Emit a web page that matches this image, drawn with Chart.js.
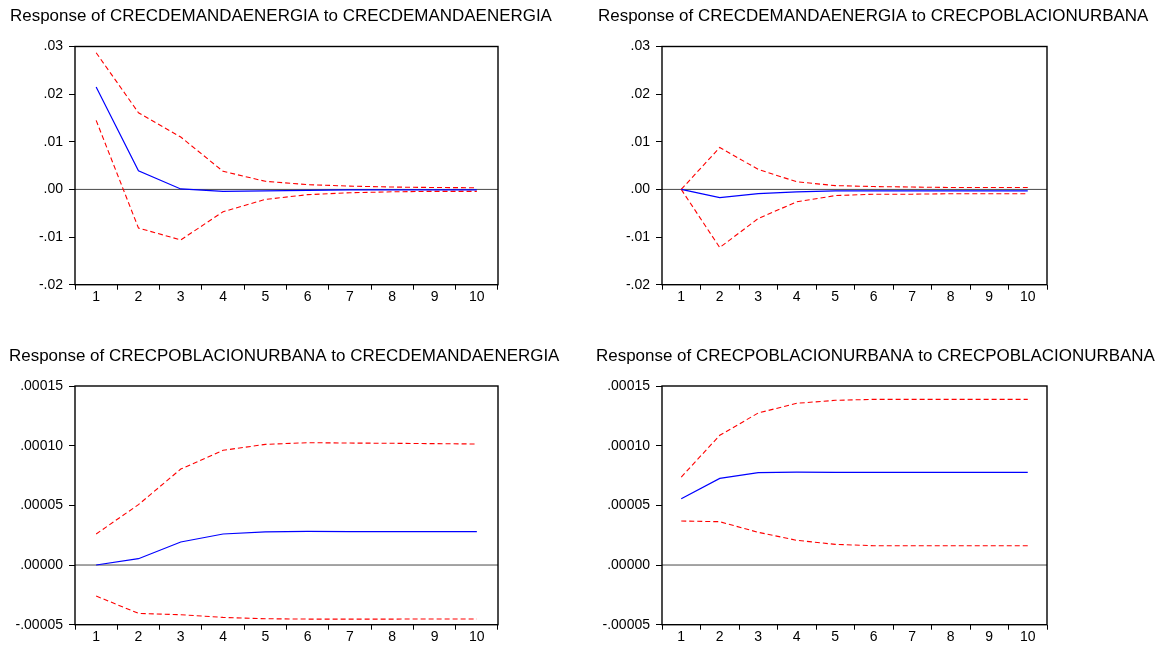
<!DOCTYPE html>
<html>
<head>
<meta charset="utf-8">
<script src="https://cdn.jsdelivr.net/npm/chart.js@4.4.1/dist/chart.umd.min.js"></script>
<style>
  html, body { margin: 0; padding: 0; background: #ffffff; }
  body { width: 1164px; height: 647px; position: relative; overflow: hidden; }
  canvas { position: absolute; }
</style>
</head>
<body>
<canvas id="cA" width="582" height="323" style="left:0px;top:0px;"></canvas>
<canvas id="cB" width="582" height="323" style="left:582px;top:0px;"></canvas>
<canvas id="cC" width="582" height="324" style="left:0px;top:323px;"></canvas>
<canvas id="cD" width="582" height="324" style="left:582px;top:323px;"></canvas>
<script>
// ---- Data ----
const periods = ['1', '2', '3', '4', '5', '6', '7', '8', '9', '10'];

const titleDemDem = 'Response of CRECDEMANDAENERGIA to CRECDEMANDAENERGIA';
const titleDemPob = 'Response of CRECDEMANDAENERGIA to CRECPOBLACIONURBANA';
const titlePobDem = 'Response of CRECPOBLACIONURBANA to CRECDEMANDAENERGIA';
const titlePobPob = 'Response of CRECPOBLACIONURBANA to CRECPOBLACIONURBANA';

const demDemResp  = [0.0215, 0.0039, 0.0001, -0.0004, -0.0003, -0.0002, -0.0001, -0.0001, -0.0001, -0.0001];
const demDemUpper = [0.0287, 0.0161, 0.0110, 0.0038, 0.0017, 0.0010, 0.0007, 0.0005, 0.0004, 0.00035];
const demDemLower = [0.0145, -0.0081, -0.0106, -0.0047, -0.0021, -0.0011, -0.0007, -0.0005, -0.0004, -0.0004];

const demPobResp  = [0, -0.0017, -0.0009, -0.0005, -0.0003, -0.0003, -0.0003, -0.0003, -0.0003, -0.0003];
const demPobUpper = [0, 0.0088, 0.0042, 0.0016, 0.0008, 0.0006, 0.0005, 0.0004, 0.0004, 0.0004];
const demPobLower = [0, -0.0122, -0.0061, -0.0026, -0.0013, -0.0010, -0.0010, -0.0009, -0.0009, -0.0009];

const pobDemResp  = [0, 0.0000053, 0.0000193, 0.0000260, 0.0000277, 0.0000282, 0.0000280, 0.0000280, 0.0000280, 0.0000280];
const pobDemUpper = [0.0000260, 0.0000506, 0.0000804, 0.0000961, 0.0001011, 0.0001025, 0.0001022, 0.0001020, 0.0001017, 0.0001014];
const pobDemLower = [-0.0000260, -0.0000405, -0.0000416, -0.0000439, -0.0000450, -0.0000453, -0.0000453, -0.0000453, -0.0000452, -0.0000452];

const pobPobResp  = [0.0000556, 0.0000726, 0.0000774, 0.0000779, 0.0000777, 0.0000777, 0.0000776, 0.0000776, 0.0000777, 0.0000777];
const pobPobUpper = [0.0000737, 0.0001087, 0.0001274, 0.0001355, 0.0001380, 0.0001388, 0.0001388, 0.0001388, 0.0001388, 0.0001388];
const pobPobLower = [0.0000369, 0.0000363, 0.0000274, 0.0000207, 0.0000173, 0.0000162, 0.0000161, 0.0000161, 0.0000162, 0.0000162];

const topTickValues = [-0.02, -0.01, 0, 0.01, 0.02, 0.03];
const topTickLabels = ['-.02', '-.01', '.00', '.01', '.02', '.03'];
const bottomTickValues = [-0.00005, 0, 0.00005, 0.00010, 0.00015];
const bottomTickLabels = ['-.00005', '.00000', '.00005', '.00010', '.00015'];

// ---- Styling ----
const FONT = "'Liberation Sans', Arial, sans-serif";

const framePlugin = {
  id: 'frame',
  beforeDatasetsDraw(chart) {
    const { ctx, chartArea } = chart;
    const y0 = chart.scales.y.getPixelForValue(0);
    ctx.save();
    ctx.strokeStyle = '#4a4a4a';
    ctx.lineWidth = 1;
    ctx.beginPath();
    ctx.moveTo(chartArea.left, y0);
    ctx.lineTo(chartArea.right, y0);
    ctx.stroke();
    ctx.restore();
  },
  afterDraw(chart, args, opts) {
    const { ctx, chartArea } = chart;
    ctx.save();
    ctx.strokeStyle = '#000';
    ctx.lineWidth = 1.4;
    ctx.strokeRect(chartArea.left, chartArea.top, chartArea.right - chartArea.left, chartArea.bottom - chartArea.top);
    // title
    ctx.fillStyle = '#000';
    ctx.font = '16px ' + FONT;
    ctx.textBaseline = 'alphabetic';
    ctx.textAlign = 'left';
    ctx.translate(opts.x, opts.y);
    ctx.scale(1.06, 1);
    ctx.fillText(opts.text, 0, 0);
    ctx.restore();
  }
};

function makeChart(id, p) {
  return new Chart(document.getElementById(id), {
    type: 'line',
    data: {
      labels: periods,
      datasets: [
        { data: p.resp, borderColor: '#0000ff', borderWidth: 1.2, pointRadius: 0, tension: 0, fill: false },
        { data: p.upper, borderColor: '#ff0000', borderWidth: 1.1, borderDash: [5, 3], pointRadius: 0, tension: 0, fill: false },
        { data: p.lower, borderColor: '#ff0000', borderWidth: 1.1, borderDash: [5, 3], pointRadius: 0, tension: 0, fill: false }
      ]
    },
    options: {
      responsive: false,
      animation: false,
      events: [],
      layout: { padding: { left: 0, top: p.top, right: p.right, bottom: p.bottom } },
      plugins: {
        legend: { display: false },
        tooltip: { enabled: false },
        title: { display: false },
        frame: { text: p.title, x: p.tx, y: p.ty }
      },
      scales: {
        x: {
          type: 'category',
          offset: true,
          grid: { offset: true, drawOnChartArea: false, drawTicks: true, tickLength: 5, color: '#000', tickWidth: 1 },
          border: { display: false },
          ticks: { font: { family: FONT, size: 14 }, color: '#000', padding: -1, maxRotation: 0, autoSkip: false },
          afterFit(s) { s.height = 20; }
        },
        y: {
          type: 'linear',
          min: p.yTicks[0],
          max: p.yTicks[p.yTicks.length - 1],
          grid: { drawOnChartArea: false, drawTicks: true, tickLength: 6, color: '#000', tickWidth: 1 },
          border: { display: false },
          afterBuildTicks(s) { s.ticks = p.yTicks.map(v => ({ value: v })); },
          ticks: {
            font: { family: FONT, size: 14 }, color: '#000', padding: 6,
            callback: (v, i) => p.yLabels[i]
          },
          afterFit(s) { s.width = p.yWidth; }
        }
      }
    },
    plugins: [framePlugin]
  });
}

makeChart('cA', {
  resp: demDemResp, upper: demDemUpper, lower: demDemLower,
  yTicks: topTickValues, yLabels: topTickLabels,
  title: titleDemDem, tx: 10, ty: 20.7,
  yWidth: 75, top: 46.5, right: 84, bottom: 18.3
});
makeChart('cB', {
  resp: demPobResp, upper: demPobUpper, lower: demPobLower,
  yTicks: topTickValues, yLabels: topTickLabels,
  title: titleDemPob, tx: 16, ty: 20.7,
  yWidth: 80, top: 46.5, right: 117, bottom: 18.3
});
makeChart('cC', {
  resp: pobDemResp, upper: pobDemUpper, lower: pobDemLower,
  yTicks: bottomTickValues, yLabels: bottomTickLabels,
  title: titlePobDem, tx: 9, ty: 37.7,
  yWidth: 75, top: 63, right: 84, bottom: 2.3
});
makeChart('cD', {
  resp: pobPobResp, upper: pobPobUpper, lower: pobPobLower,
  yTicks: bottomTickValues, yLabels: bottomTickLabels,
  title: titlePobPob, tx: 14, ty: 37.7,
  yWidth: 80, top: 63, right: 117, bottom: 2.3
});
</script>
</body>
</html>
